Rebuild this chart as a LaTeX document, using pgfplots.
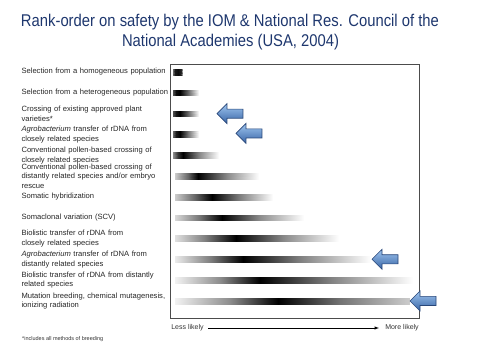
\documentclass[border=0pt]{standalone}
\usepackage{pgfplots}
\pgfplotsset{compat=1.18}
\usepackage{fontspec}
\setmainfont{Liberation Sans}
\usepackage{graphicx}
\definecolor{titleblue}{RGB}{30,55,110}
\definecolor{arrtop}{RGB}{160,198,240}
\definecolor{arrbot}{RGB}{55,100,165}
\definecolor{arredge}{RGB}{40,70,120}
\begin{document}
\begin{tikzpicture}
\path[use as bounding box] (0,0) rectangle (480pt,-361pt);
\node[anchor=base, text=titleblue, inner sep=0] at (230pt,-27pt) {\resizebox{418pt}{\height}{\fontsize{17}{20}\selectfont Rank-order on safety by the IOM \& National Res. Council of the}};
\node[anchor=base, text=titleblue, inner sep=0] at (230.5pt,-47pt) {\resizebox{217pt}{\height}{\fontsize{17}{20}\selectfont National Academies (USA, 2004)}};
\begin{axis}[at={(170pt,-318pt)}, anchor=south west, scale only axis,
  width=249pt, height=254pt,
  xmin=170, xmax=419, ymin=0.615, ymax=12.82, y dir=reverse, clip=false,
  xtick=\empty, ytick={1,...,12}, major tick length=0pt,
  yticklabels={
    {Selection from a homogeneous population},
    {Selection from a heterogeneous population},
    {Crossing of existing approved plant\\varieties*},
    {\textit{Agrobacterium} transfer of rDNA from\\closely related species},
    {Conventional pollen-based crossing of\\closely related species},
    {Conventional pollen-based crossing of\\distantly related species and/or embryo\\rescue},
    {Somatic hybridization},
    {Somaclonal variation (SCV)},
    {Biolistic transfer of rDNA from\\closely related species},
    {\textit{Agrobacterium} transfer of rDNA from\\distantly related species},
    {Biolistic transfer of rDNA from distantly\\related species},
    {Mutation breeding, chemical mutagenesis,\\ionizing radiation}},
  yticklabel style={anchor=west, xshift=-152pt, text width=160pt, align=left,
    font=\fontsize{7.6}{9.6}\selectfont, text=black!85},
  axis line style={draw=black!70, line width=0.8pt},
  colormap={wb}{color(0)=(white) color(1)=(black)},
  point meta min=0, point meta max=1,
  gbar/.style={surf, shader=interp, mesh/rows=2, mesh/cols=5, point meta=explicit}]
% gradient bars: start, rising, peak, falling, end (meta = darkness)
\addplot[gbar] coordinates {(173,0.85)[0.6] (175,0.85)[0.9] (178,0.85)[0.95] (181,0.85)[0.85] (183,0.85)[0.1]
  (173,1.15)[0.6] (175,1.15)[0.9] (178,1.15)[0.95] (181,1.15)[0.85] (183,1.15)[0.1]};
\addplot[gbar] coordinates {(173,1.85)[0.7] (176,1.85)[0.95] (180,1.85)[1] (188,1.85)[0.6] (199,1.85)[0]
  (173,2.15)[0.7] (176,2.15)[0.95] (180,2.15)[1] (188,2.15)[0.6] (199,2.15)[0]};
\addplot[gbar] coordinates {(173,2.85)[0.7] (176,2.85)[0.9] (180,2.85)[1] (188,2.85)[0.6] (199,2.85)[0]
  (173,3.15)[0.7] (176,3.15)[0.9] (180,3.15)[1] (188,3.15)[0.6] (199,3.15)[0]};
\addplot[gbar] coordinates {(173,3.85)[0.6] (176,3.85)[0.9] (180,3.85)[1] (188,3.85)[0.55] (199,3.85)[0]
  (173,4.15)[0.6] (176,4.15)[0.9] (180,4.15)[1] (188,4.15)[0.55] (199,4.15)[0]};
\addplot[gbar] coordinates {(173,4.85)[0.45] (178,4.85)[0.8] (183,4.85)[1] (200,4.85)[0.45] (219,4.85)[0]
  (173,5.15)[0.45] (178,5.15)[0.8] (183,5.15)[1] (200,5.15)[0.45] (219,5.15)[0]};
\addplot[gbar] coordinates {(175,5.85)[0.2] (188,5.85)[0.6] (198,5.85)[1] (228,5.85)[0.45] (259,5.85)[0]
  (175,6.15)[0.2] (188,6.15)[0.6] (198,6.15)[1] (228,6.15)[0.45] (259,6.15)[0]};
\addplot[gbar] coordinates {(175,6.85)[0.2] (195,6.85)[0.6] (212,6.85)[1] (240,6.85)[0.5] (273,6.85)[0]
  (175,7.15)[0.2] (195,7.15)[0.6] (212,7.15)[1] (240,7.15)[0.5] (273,7.15)[0]};
\addplot[gbar] coordinates {(175,7.85)[0.15] (200,7.85)[0.55] (222,7.85)[1] (260,7.85)[0.45] (304,7.85)[0]
  (175,8.15)[0.15] (200,8.15)[0.55] (222,8.15)[1] (260,8.15)[0.45] (304,8.15)[0]};
\addplot[gbar] coordinates {(175,8.85)[0.12] (205,8.85)[0.5] (236,8.85)[1] (285,8.85)[0.45] (339,8.85)[0]
  (175,9.15)[0.12] (205,9.15)[0.5] (236,9.15)[1] (285,9.15)[0.45] (339,9.15)[0]};
\addplot[gbar] coordinates {(175,9.85)[0.08] (210,9.85)[0.5] (243,9.85)[1] (300,9.85)[0.5] (371,9.85)[0]
  (175,10.15)[0.08] (210,10.15)[0.5] (243,10.15)[1] (300,10.15)[0.5] (371,10.15)[0]};
\addplot[gbar] coordinates {(175,10.85)[0.05] (220,10.85)[0.45] (260,10.85)[1] (330,10.85)[0.5] (413,10.85)[0]
  (175,11.15)[0.05] (220,11.15)[0.45] (260,11.15)[1] (330,11.15)[0.5] (413,11.15)[0]};
\addplot[gbar] coordinates {(175,11.85)[0.05] (230,11.85)[0.45] (278,11.85)[1] (340,11.85)[0.55] (410,11.85)[0.2]
  (175,12.15)[0.05] (230,12.15)[0.45] (278,12.15)[1] (340,12.15)[0.55] (410,12.15)[0.2]};
% block arrows
\addplot[draw=arredge, line width=0.6pt, top color=arrtop, bottom color=arrbot] coordinates
  {(217,3) (227,2.52) (227,2.78) (243,2.78) (243,3.22) (227,3.22) (227,3.48)} -- cycle;
\addplot[draw=arredge, line width=0.6pt, top color=arrtop, bottom color=arrbot] coordinates
  {(236,3.95) (246,3.47) (246,3.73) (262,3.73) (262,4.17) (246,4.17) (246,4.43)} -- cycle;
\addplot[draw=arredge, line width=0.6pt, top color=arrtop, bottom color=arrbot] coordinates
  {(372,10) (382,9.52) (382,9.78) (398,9.78) (398,10.22) (382,10.22) (382,10.48)} -- cycle;
\addplot[draw=arredge, line width=0.6pt, top color=arrtop, bottom color=arrbot] coordinates
  {(410,12) (420,11.52) (420,11.78) (436,11.78) (436,12.22) (420,12.22) (420,12.48)} -- cycle;
\end{axis}
\node[font=\fontsize{7}{8}\selectfont, text=black!80] at (187.5pt,-328pt) {Less likely};
\draw[-latex, line width=0.5pt] (208pt,-328pt) -- (379pt,-328pt);
\node[font=\fontsize{7}{8}\selectfont, text=black!80] at (402pt,-328pt) {More likely};
\node[anchor=west, inner sep=0, font=\fontsize{5.5}{6}\selectfont, text=black!80] at (22pt,-339pt) {*includes all methods of breeding};
\end{tikzpicture}
\end{document}
